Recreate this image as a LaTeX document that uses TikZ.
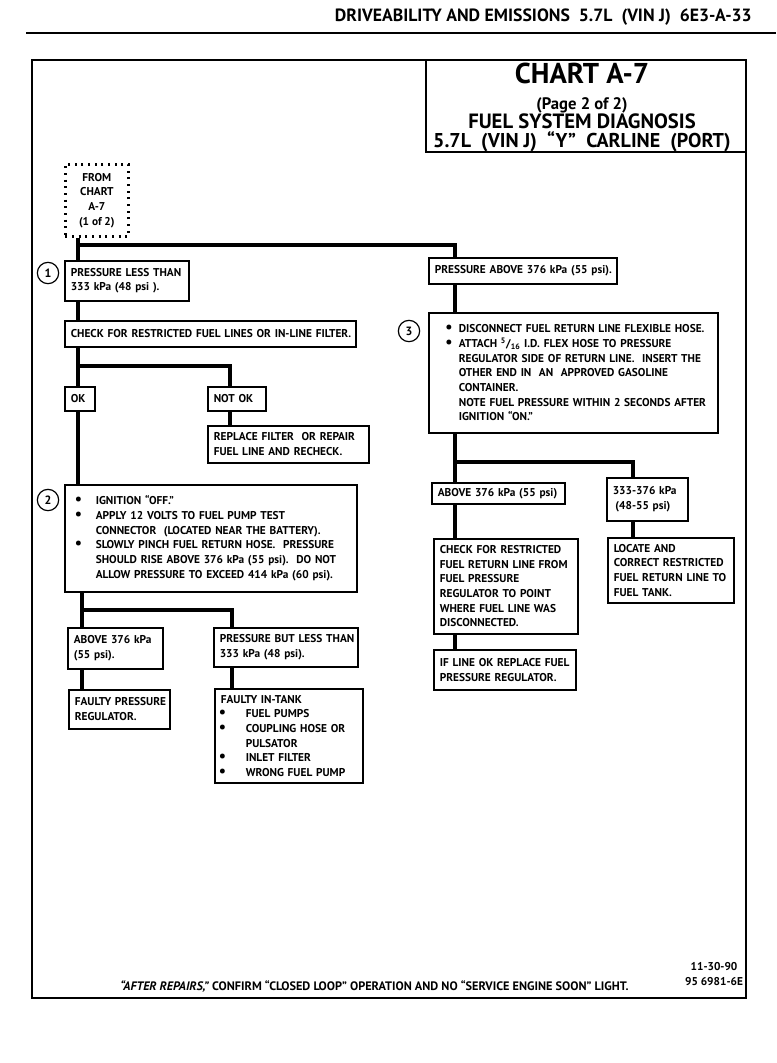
\documentclass[tikz,border=0pt]{standalone}
\usepackage{fontspec}
\setmainfont{PT Sans}
\newcommand\bxf{\fontsize{8.5}{11}\selectfont\bfseries}
\newcommand\hdf{\fontsize{13.3}{15}\selectfont\bfseries}
\newcommand\ttlA{\fontsize{21.5}{24}\selectfont\bfseries}
\newcommand\ttlB{\fontsize{12.5}{14}\selectfont\bfseries}
\newcommand\ttlC{\fontsize{15.5}{17}\selectfont\bfseries}
\newcommand\ttlD{\fontsize{15}{17}\selectfont\bfseries}
\newcommand\numf{\fontsize{9}{10}\selectfont\bfseries}
\newcommand\ftf{\fontsize{9.2}{10}\selectfont\bfseries}
\newcommand\bdot{{\fontsize{12}{11}\selectfont\textbullet}}
\newcommand\bulA{\hspace*{3pt}\makebox[15.75pt][l]{\bdot}}
\newcommand\indA{\hspace*{18.75pt}}
\newcommand\bulB{\hspace*{8pt}\makebox[10pt][l]{\bdot}}
\newcommand\indB{\hspace*{18pt}}
\newcommand\bulC{\hspace*{-1.5pt}\makebox[20.25pt][l]{\bdot}}
\newcommand\indC{\hspace*{18.75pt}}
\begin{document}
\begin{tikzpicture}[x=0.75pt,y=-0.75pt,
  box/.style={draw,line width=1.2pt,anchor=north west,align=left,inner xsep=4.5pt,inner ysep=1pt,font=\bxf,
    execute at begin node={\rightskip=0pt plus 2em minus 40pt\relax}},
  sz/.style 2 args={minimum width=#1*0.75pt,minimum height=#2*0.75pt,text width=#1*0.75pt-9pt},
  conn/.style={line width=3pt},
  ttl/.style={anchor=base,inner sep=0pt},
  num/.style={draw,circle,line width=0.9pt,minimum size=16pt,inner sep=0pt,font=\numf}]
\useasboundingbox (0,0) rectangle (776,1063);
% header
\node[anchor=base east,font=\hdf,inner sep=0pt] (hdr) at (752,22) {DRIVEABILITY AND EMISSIONS\ \ 5.7L\ \ (VIN J)\ \ 6E3-A-33};
\draw[line width=1.5pt] (26,33) -- (776,33);
% frame and title box
\draw[line width=2.2pt] (32,60) rectangle (746,998);
\draw[line width=1.6pt] (426,60) |- (746,152);
\node[ttl,font=\ttlA] (ttlm) at (582,84) {CHART A-7};
\node[ttl,font=\ttlB] (pg) at (582,109) {(Page 2 of 2)};
\node[ttl,font=\ttlC] (fsd) at (582,128) {FUEL SYSTEM DIAGNOSIS};
\node[ttl,font=\ttlD] (car) at (582,147) {5.7L\ \ (VIN J)\ \ ``Y''\ \ CARLINE\ \ (PORT)};
% from box
\node[draw,dash pattern=on 1.6pt off 3.4pt,line width=2pt,anchor=north west,minimum width=47.25pt,minimum height=54pt,align=center,font=\bxf] (from) at (64,163) {FROM\\CHART\\A-7\\(1 of 2)};
% left column
\node[box,sz={124}{40}] (b1) at (64,260) {PRESSURE LESS THAN\\333 kPa (48 psi ).};
\node[box,sz={291}{26}] (chk) at (64,320) {CHECK FOR RESTRICTED FUEL LINES OR IN-LINE FILTER.};
\node[box,sz={30}{24}] (ok) at (64,386) {OK};
\node[box,sz={58}{24}] (notok) at (207,386) {NOT OK};
\node[box,sz={161}{37}] (repl) at (207,425) {REPLACE FILTER\ \ OR REPAIR\\FUEL LINE AND RECHECK.};
\node[box,sz={292}{107}] (b2) at (64,484) {\bulA IGNITION ``OFF.''\\
\bulA APPLY 12 VOLTS TO FUEL PUMP TEST\\
\indA CONNECTOR\ \ (LOCATED NEAR THE BATTERY).\\
\bulA SLOWLY PINCH FUEL RETURN HOSE.\ \ PRESSURE\\
\indA SHOULD RISE ABOVE 376 kPa (55 psi).\ \ DO NOT\\
\indA ALLOW PRESSURE TO EXCEED 414 kPa (60 psi).};
\node[box,sz={95}{41}] (ab1) at (67,627) {ABOVE 376 kPa\\(55 psi).};
\node[box,sz={144}{39}] (pbl) at (213,627) {PRESSURE BUT LESS THAN\\333 kPa (48 psi).};
\node[box,sz={101}{39}] (fpr) at (68,689) {FAULTY PRESSURE\\REGULATOR.};
\node[box,sz={148}{94}] (fit) at (214,688) {FAULTY IN-TANK\\
\bulC FUEL PUMPS\\
\bulC COUPLING HOSE OR\\
\indC PULSATOR\\
\bulC INLET FILTER\\
\bulC WRONG FUEL PUMP};
% right column
\node[box,sz={188}{26}] (pa) at (428,257) {PRESSURE ABOVE 376 kPa (55 psi).};
\node[box,sz={289}{120}] (b3) at (428,312) {\bulB DISCONNECT FUEL RETURN LINE FLEXIBLE HOSE.\\
\bulB ATTACH \textsuperscript{5}/\textsubscript{16} I.D. FLEX HOSE TO PRESSURE\\
\indB REGULATOR SIDE OF RETURN LINE.\ \ INSERT THE\\
\indB OTHER END IN\ \ AN\ \ APPROVED GASOLINE\\
\indB CONTAINER.\\
\indB NOTE FUEL PRESSURE WITHIN 2 SECONDS AFTER\\
\indB IGNITION ``ON.''};
\node[box,sz={133}{21}] (ab2) at (431,482) {ABOVE 376 kPa (55 psi)};
\node[box,sz={81}{43}] (r333) at (606,477) {333-376 kPa\\\hspace*{2pt}(48-55 psi)};
\node[box,sz={144}{95}] (chk2) at (433,538) {CHECK FOR RESTRICTED\\FUEL RETURN LINE FROM\\FUEL PRESSURE\\REGULATOR TO POINT\\WHERE FUEL LINE WAS\\DISCONNECTED.};
\node[box,sz={126}{65}] (loc) at (607,537) {LOCATE AND\\CORRECT RESTRICTED\\FUEL RETURN LINE TO\\FUEL TANK.};
\node[box,sz={142}{40}] (ifl) at (433,649) {IF LINE OK REPLACE FUEL\\PRESSURE REGULATOR.};
% numbers
\node[num] (n1) at (48,273) {1};
\node[num] (n2) at (48,500) {2};
\node[num] (n3) at (409,331) {3};
% footer
\node[anchor=base west,font=\ftf,inner sep=0pt] (ftr) at (120,990) {\textit{``AFTER REPAIRS,''} CONFIRM ``CLOSED LOOP'' OPERATION AND NO ``SERVICE ENGINE SOON'' LIGHT.};
\node[align=center,font=\bxf,inner sep=0pt] (date) at (714,974) {11-30-90\\95 6981-6E};
% connectors
\coordinate (cA) at (78,0);
\coordinate (cB) at (82,0);
\coordinate (cN) at (230,0);
\coordinate (cM) at (232,0);
\coordinate (cR) at (455,0);
\coordinate (cS) at (633,0);
\coordinate (j1) at (78,245);
\coordinate (j2) at (78,366);
\coordinate (j3) at (82,610);
\coordinate (j4) at (455,462);
\draw[conn] (from.south -| cA) -- (b1.north -| cA);
\draw[conn] (j1) -| (pa.north -| cR);
\draw[conn] (b1.south -| cA) -- (chk.north -| cA);
\draw[conn] (chk.south -| cA) -- (ok.north -| cA);
\draw[conn] (j2) -| (notok.north -| cN);
\draw[conn] (notok.south -| cN) -- (repl.north -| cN);
\draw[conn] (ok.south -| cA) -- (b2.north -| cA);
\draw[conn] (b2.south -| cB) -- (ab1.north -| cB);
\draw[conn] (j3) -| (pbl.north -| cM);
\draw[conn] (ab1.south -| cB) -- (fpr.north -| cB);
\draw[conn] (pbl.south -| cM) -- (fit.north -| cM);
\draw[conn] (pa.south -| cR) -- (b3.north -| cR);
\draw[conn] (b3.south -| cR) -- (ab2.north -| cR);
\draw[conn] (j4) -| (r333.north -| cS);
\draw[conn] (ab2.south -| cR) -- (chk2.north -| cR);
\draw[conn] (chk2.south -| cR) -- (ifl.north -| cR);
\draw[conn] (r333.south -| cS) -- (loc.north -| cS);
\end{tikzpicture}
\end{document}
